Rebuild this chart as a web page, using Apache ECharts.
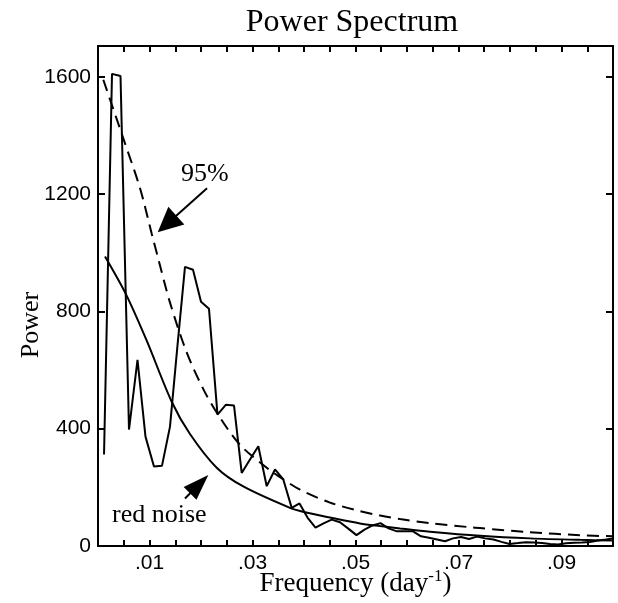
<!DOCTYPE html>
<html>
<head>
<meta charset="utf-8">
<script src="https://cdn.jsdelivr.net/npm/echarts@6/dist/echarts.min.js"></script>
<style>
html,body{margin:0;padding:0;background:#fff;}
#chart{width:618px;height:603px;}
</style>
</head>
<body>
<div id="chart"></div>
<script>
// Observed spectrum (frequency in day^-1, power)
var specFreq = [0.00117,0.00272,0.00437,0.00602,0.00767,0.00922,0.01087,0.01243,0.01398,0.01544,
  0.01689,0.01845,0.02000,0.02155,0.02320,0.02485,0.02641,0.02790,0.02951,0.03113,
  0.03276,0.03437,0.03598,0.03761,0.03913,0.04068,0.04223,0.04379,0.04538,0.04699,
  0.04854,0.05019,0.05175,0.05330,0.05485,0.05641,0.05806,0.05961,0.06117,0.06272,
  0.06427,0.06583,0.06738,0.06893,0.07049,0.07204,0.07359,0.07515,0.07680,0.07835,
  0.07990,0.08155,0.08311,0.08466,0.08621,0.08777,0.08932,0.09087,0.09243,0.09398,
  0.09553,0.09709,0.09864,0.1000];
var specPower = [312,1610,1603,397,635,373,271,274,407,685,
  952,942,833,809,448,482,479,249,295,340,
  204,261,227,130,145,97,63,77,90,81,
  60,37,56,70,78,60,50,50,50,33,
  28,22,16,26,31,24,32,26,22,14,
  7,10,13,12,10,7,5,9,11,12,
  14,19,22,26];

// Red noise background spectrum
var redFreq = [0.00136,0.00544,0.00946,0.01431,0.01786,0.02305,0.02821,0.03728,0.04019,0.04505,
  0.05087,0.05476,0.05864,0.06447,0.07417,0.08388,0.09359,0.1000];
var redPower = [987,858,700,492,382,267,203,130,115,97,
  77,68,60,49,35,26,21,19];

// 95% confidence spectrum
var sigFreq = [0.00103,0.00491,0.00816,0.01043,0.0114,0.01398,0.01722,0.02045,0.02305,0.02757,
  0.0334,0.03534,0.03922,0.04505,0.05087,0.05476,0.05864,0.06447,0.07223,0.07417,
  0.08388,0.09359,0.1000];
var sigPower = [1590,1390,1220,1065,1000,830,660,535,455,345,
  258,235,192,148,119,104,92,78,64,61,
  47,37,33];

// Axis ticks
var xLabelValues = [0.01,0.03,0.05,0.07,0.09];
var yLabelValues = [0,400,800,1200,1600];

// Annotation arrows (data coordinates: [tail, arrow head centre])
var arrow95 = [[0.02117,1220],[0.0134,1098]];
var arrowRed = [[0.01689,162],[0.01965,211]];

function pairs(xs, ys){ return xs.map(function(x,i){ return [x, ys[i]]; }); }

var serif = 'Liberation Serif';
var sans = 'Liberation Sans';

var chart = echarts.init(document.getElementById('chart'), null, {renderer:'canvas'});
var axisLineStyle = {color:'#000', width:2};

chart.setOption({
  animation:false,
  backgroundColor:'#fff',
  title:{
    text:'Power Spectrum',
    left:347, top:2, textAlign:'center',
    textStyle:{fontFamily:serif, fontSize:32, fontWeight:'normal', color:'#000'}
  },
  grid:{left:98, right:5, top:46, bottom:57, containLabel:false, outerBoundsMode:'none'},
  xAxis:[{
    type:'value', min:0, max:0.1, interval:0.005, position:'bottom',
    axisLine:{show:true, onZero:false, lineStyle:axisLineStyle},
    axisTick:{show:true, inside:true, length:6, lineStyle:{color:'#000', width:2}},
    splitLine:{show:false},
    axisLabel:{
      show:true, margin:7, color:'#000', fontFamily:sans, fontSize:21,
      formatter:function(v){
        for (var i=0;i<xLabelValues.length;i++){
          if (Math.abs(v - xLabelValues[i]) < 1e-6) return xLabelValues[i].toFixed(2).replace(/^0/,'');
        }
        return '';
      }
    },
    name:'Frequency (day{sup|-1})', nameLocation:'middle', nameGap:22, nameMoveOverlap:false,
    nameTextStyle:{fontFamily:serif, fontSize:27, color:'#000', lineHeight:31,
      rich:{sup:{fontFamily:serif, fontSize:17, lineHeight:17, verticalAlign:'top', color:'#000'}}}
  },{
    type:'value', min:0, max:0.1, interval:0.005, position:'top',
    axisLine:{show:true, onZero:false, lineStyle:axisLineStyle},
    axisTick:{show:true, inside:true, length:6, lineStyle:{color:'#000', width:2}},
    splitLine:{show:false}, axisLabel:{show:false}
  }],
  yAxis:[{
    type:'value', min:0, max:1705, interval:400, position:'left',
    axisLine:{show:true, onZero:false, lineStyle:axisLineStyle},
    axisTick:{show:true, inside:true, length:7, lineStyle:{color:'#000', width:2}},
    splitLine:{show:false},
    axisLabel:{
      show:true, margin:7, color:'#000', fontFamily:sans, fontSize:21,
      formatter:function(v){ return yLabelValues.indexOf(v) >= 0 ? String(v) : ''; }
    }
  },{
    type:'value', min:0, max:1705, interval:400, position:'right',
    axisLine:{show:true, onZero:false, lineStyle:axisLineStyle},
    axisTick:{show:true, inside:true, length:7, lineStyle:{color:'#000', width:2}},
    splitLine:{show:false}, axisLabel:{show:false}
  }],
  graphic:[
    {type:'text', x:31, y:325, rotation:Math.PI/2,
      style:{text:'Power', font:'26px "Liberation Serif"', fill:'#000', align:'center', verticalAlign:'middle'}},
    {type:'text', left:181, top:161, style:{text:'95%', font:'26px "Liberation Serif"', fill:'#000'}},
    {type:'text', left:112, top:502, style:{text:'red noise', font:'26px "Liberation Serif"', fill:'#000'}}
  ],
  series:[{
    name:'spectrum', type:'line', xAxisIndex:0, yAxisIndex:0,
    data:pairs(specFreq, specPower), showSymbol:false, symbol:'none',
    lineStyle:{color:'#000', width:2}, z:3
  },{
    name:'red noise', type:'line', xAxisIndex:0, yAxisIndex:0,
    data:pairs(redFreq, redPower), showSymbol:false, symbol:'none', smooth:0.3,
    lineStyle:{color:'#000', width:2}, z:3
  },{
    name:'95%', type:'line', xAxisIndex:0, yAxisIndex:0,
    data:pairs(sigFreq, sigPower), showSymbol:false, symbol:'none', smooth:0.3,
    lineStyle:{color:'#000', width:2, type:[12,7]}, z:3,
    markLine:{
      silent:true, symbol:['none','triangle'], symbolSize:[23,25],
      label:{show:false},
      lineStyle:{color:'#000', width:2, type:'solid'},
      emphasis:{disabled:true},
      data:[
        [{coord:arrow95[0]},{coord:arrow95[1], symbolSize:[24,25]}],
        [{coord:arrowRed[0]},{coord:arrowRed[1], symbolSize:[18,26]}]
      ]
    }
  }]
});
</script>
</body>
</html>
